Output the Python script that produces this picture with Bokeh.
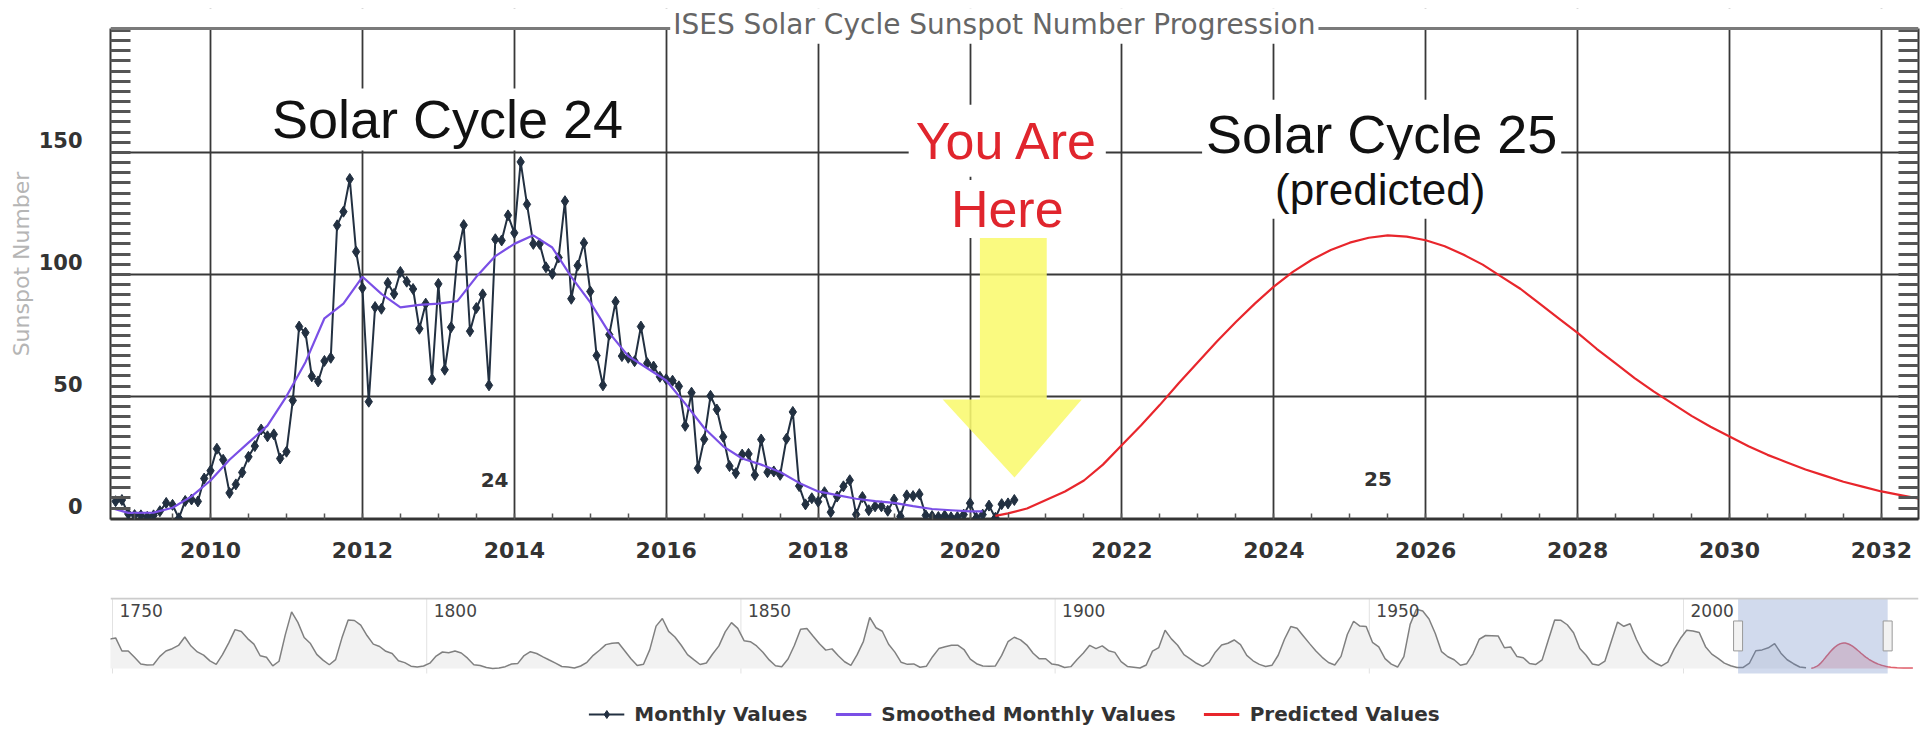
import numpy as np
from bokeh.plotting import figure
from bokeh.models import (Range1d, LinearAxis, FixedTicker, Label, Legend, LegendItem,
                          Span, BoxAnnotation)
from bokeh.layouts import column
from bokeh.embed import file_html
from bokeh.resources import INLINE

# ---------------------------------------------------------------- data
# monthly mean sunspot number, first month = Oct 2008, last = Aug 2020
monthly_first = (2008, 10)
monthly_values = [
    7.0, 7.5, 1.8,
    1.3, 1.2, 0.6, 1.2, 2.9, 6.3, 5.5, 0.0, 7.1, 7.7, 6.9, 16.3,
    19.5, 28.5, 24.0, 10.4, 13.9, 18.8, 25.2, 29.6, 36.4, 33.6, 34.4, 24.5,
    27.3, 48.3, 78.6, 76.1, 58.2, 56.1, 64.5, 65.8, 120.1, 125.7, 139.1, 109.3,
    94.4, 47.8, 86.6, 85.9, 96.5, 92.0, 101.0, 97.0, 94.0, 77.7, 88.0, 57.0,
    96.1, 60.9, 78.3, 107.3, 120.2, 76.7, 86.2, 91.8, 54.5, 114.4, 113.9, 124.2,
    117.0, 146.1, 128.7, 112.5, 112.5, 102.9, 100.2, 106.9, 130.0, 90.0, 103.6, 112.9,
    93.0, 66.7, 54.5, 75.3, 88.8, 66.5, 65.8, 64.4, 78.6, 63.6, 62.2, 58.0,
    57.0, 56.4, 54.1, 37.9, 51.5, 20.5, 32.4, 50.2, 44.6, 33.4, 21.4, 18.5,
    26.1, 26.4, 17.7, 32.3, 18.9, 19.2, 17.8, 32.6, 43.6, 13.2, 5.7, 8.2,
    6.8, 10.7, 2.5, 8.9, 13.1, 15.6, 1.6, 8.7, 3.3, 4.9, 4.9, 3.1,
    7.7, 0.8, 9.4, 9.1, 9.9, 1.2, 0.9, 0.5, 1.1, 0.4, 0.5, 1.5,
    6.2, 0.2, 1.5, 5.2, 0.2, 5.8, 6.1, 7.5,
]

smoothed_months = [
    "2008-09", "2008-12", "2009-04", "2009-07", "2009-10",
    "2010-01", "2010-04", "2010-07", "2010-10",
    "2011-01", "2011-04", "2011-07", "2011-10",
    "2012-01", "2012-04", "2012-07", "2012-10",
    "2013-01", "2013-04", "2013-07", "2013-10",
    "2014-01", "2014-04", "2014-07", "2014-10",
    "2015-01", "2015-04", "2015-07", "2015-10",
    "2016-01", "2016-04", "2016-07", "2016-10",
    "2017-01", "2017-04", "2017-07", "2017-10",
    "2018-01", "2018-04", "2018-07", "2018-10",
    "2019-01", "2019-04", "2019-07", "2019-10",
    "2020-01", "2020-03",
]
smoothed_values = [
    4.5, 2.2, 2.3, 4.3, 9.0,
    15.5, 24.0, 31.0, 38.0,
    50.0, 64.0, 82.0, 88.0,
    99.0, 92.0, 86.5, 87.5,
    88.0, 89.0, 99.0, 107.5,
    112.5, 116.0, 111.0, 99.0,
    88.5, 76.0, 66.5, 61.5,
    56.5, 47.0, 37.0, 29.5,
    24.5, 22.0, 19.0, 14.5,
    11.0, 9.5, 8.0, 7.0,
    6.3, 5.0, 3.8, 3.3,
    2.8, 2.8,
]

predicted_months = [
    "2020-05", "2020-07", "2020-10",
    "2021-01", "2021-04", "2021-07", "2021-10",
    "2022-01", "2022-04", "2022-07", "2022-10",
    "2023-01", "2023-04", "2023-07", "2023-10",
    "2024-01", "2024-04", "2024-07", "2024-10",
    "2025-01", "2025-04", "2025-07", "2025-10",
    "2026-01", "2026-04", "2026-07", "2026-10",
    "2027-01", "2027-04", "2027-07", "2027-10",
    "2028-01", "2028-04", "2028-07", "2028-10",
    "2029-01", "2029-04", "2029-07", "2029-10",
    "2030-01", "2030-04", "2030-07", "2030-10",
    "2031-01", "2031-04", "2031-07", "2031-10",
    "2032-01", "2032-04", "2032-07",
    "2033-01", "2034-01", "2035-01", "2036-07",
]
predicted_values = [
    1.0, 2.0, 4.0,
    7.5, 11.0, 15.5, 22.0,
    30.0, 38.0, 46.5, 55.5,
    64.0, 72.5, 80.5, 88.0,
    95.0, 101.0, 106.0, 110.0,
    113.0, 115.0, 116.0, 115.5,
    114.0, 111.5, 108.0, 104.0,
    99.0, 94.0, 88.0, 82.0,
    76.0, 69.5, 63.5, 57.5,
    52.0, 47.0, 42.0, 37.5,
    33.5, 29.5, 26.0, 23.0,
    20.0, 17.5, 15.0, 13.0,
    11.0, 9.5, 8.0,
    6.0, 3.5, 2.5, 2.0,
]

# navigator: yearly sunspot numbers from 1749
nav_first_year = 1749
nav_yearly = [
    134.0, 139.0, 79.5, 79.7, 51.2, 20.3, 16.0, 17.0, 54.0, 79.3,
    90.0, 104.8, 143.2, 102.0, 75.2, 60.7, 34.8, 19.0, 63.0, 116.3,
    176.8, 168.0, 136.0, 110.8, 58.0, 51.0, 11.7, 33.0, 154.2, 257.3,
    209.8, 141.3, 113.5, 64.2, 38.0, 17.0, 40.2, 138.2, 220.0, 218.2,
    196.8, 149.8, 111.0, 100.0, 78.2, 68.3, 35.5, 26.7, 10.7, 6.8,
    11.3, 24.2, 56.7, 75.0, 71.8, 79.2, 70.3, 46.8, 16.8, 13.5,
    4.2, 0.0, 2.3, 8.3, 20.3, 23.2, 59.0, 76.3, 68.3, 52.9,
    38.5, 24.2, 9.2, 6.3, 2.2, 11.4, 28.2, 59.9, 83.0, 108.5,
    115.2, 117.4, 80.8, 44.3, 13.4, 19.5, 85.8, 192.7, 227.3, 168.7,
    143.0, 105.5, 63.3, 40.3, 18.1, 25.1, 65.8, 102.7, 166.3, 208.3,
    182.5, 126.3, 122.0, 102.7, 74.1, 39.0, 12.7, 8.2, 43.4, 104.4,
    178.3, 182.2, 146.6, 112.1, 83.5, 89.2, 57.8, 30.7, 13.9, 62.8,
    123.6, 232.0, 185.3, 169.2, 110.1, 74.5, 28.3, 18.9, 20.7, 5.7,
    10.0, 53.7, 90.5, 99.0, 106.1, 105.8, 86.3, 42.4, 21.8, 11.2,
    10.4, 11.8, 59.5, 121.7, 142.0, 130.0, 106.6, 69.4, 43.8, 44.4,
    20.2, 15.7, 4.6, 8.5, 40.8, 70.1, 105.5, 90.1, 102.8, 80.9,
    73.2, 30.9, 9.5, 6.0, 2.4, 16.1, 79.0, 95.0, 173.6, 134.6,
    105.7, 62.7, 43.5, 23.7, 9.7, 27.9, 74.0, 106.5, 114.7, 129.7,
    108.2, 59.4, 35.1, 18.6, 9.2, 14.6, 60.2, 132.8, 190.6, 182.6,
    148.0, 113.0, 79.2, 50.8, 27.1, 16.1, 55.3, 154.3, 214.7, 193.0,
    190.7, 118.9, 98.3, 45.0, 20.1, 6.6, 54.2, 200.7, 269.3, 261.7,
    225.1, 159.0, 76.4, 53.4, 39.9, 15.0, 22.0, 66.8, 132.9, 150.0,
    149.4, 148.0, 94.4, 97.6, 54.1, 49.2, 22.5, 18.4, 39.3, 131.0,
    220.1, 218.9, 198.9, 162.4, 91.0, 60.5, 20.6, 14.8, 33.9, 123.0,
    211.1, 191.8, 203.3, 133.0, 76.1, 44.9, 25.1, 11.6, 28.9, 88.3,
    136.3, 173.9, 170.4, 163.6, 99.3, 65.3, 45.8, 24.7, 12.6, 4.2,
    4.8, 24.9, 80.8, 84.5, 94.0, 113.3, 69.8, 39.8, 21.7, 7.0,
    3.6,
]

x_ticks = [2010, 2012, 2014, 2016, 2018, 2020, 2022, 2024, 2026, 2028, 2030, 2032]
y_ticks = [0, 50, 100, 150]
nav_ticks = [1750, 1800, 1850, 1900, 1950, 2000]

# ---------------------------------------------------------------- helpers
def month_pos(s):
    y, m = s.split("-")
    return int(y) + (int(m) - 1) / 12.0

first_idx = monthly_first[0] * 12 + monthly_first[1] - 1
monthly_x = [(first_idx + i) // 12 + ((first_idx + i) % 12) / 12.0 for i in range(len(monthly_values))]
smoothed_x = [month_pos(s) for s in smoothed_months]
predicted_x = [month_pos(s) for s in predicted_months]
nav_x = [nav_first_year + i + 0.5 for i in range(len(nav_yearly))]

# ---------------------------------------------------------------- styles
MONTHLY_COLOR = "#223041"
SMOOTH_COLOR = "#7a4fe6"
PRED_COLOR = "#e8262c"
GRID_COLOR = "#383838"
TICK_FONT = "DejaVu Sans"

W = 1920
FRAME_W = 1808
X0 = 2008.683
X1 = X0 + FRAME_W / 75.95
Y0, Y1 = -0.5, 200.8          # visible plot box
PX_PER_UNIT = 491.0 / (Y1 - Y0)
YTOP = Y1 + 20.0 / PX_PER_UNIT  # frame extends above the box (title sits on the box edge)
LABEL_SHIFT = 5.0
y_minor = [k * 50.0 / 12.0 for k in range(1, 49)]
x_minor = [2009 + 0.5 * k for k in range(0, 48)]

# ---------------------------------------------------------------- main figure
p = figure(width=W, height=575, x_range=Range1d(X0, X1), y_range=Range1d(Y0, YTOP),
           output_backend="svg", toolbar_location=None, y_axis_location=None,
           min_border_left=110, min_border_right=2, min_border_top=8, min_border_bottom=56)
p.outline_line_color = None

xa = p.xaxis[0]
xa.ticker = FixedTicker(ticks=x_ticks, minor_ticks=x_minor)
xa.major_tick_in = 0
xa.major_tick_out = 0
xa.minor_tick_in = 6
xa.minor_tick_out = 0
xa.minor_tick_line_color = "#555555"
xa.minor_tick_line_width = 1.5
xa.axis_line_color = "#333333"
xa.axis_line_width = 2
xa.major_label_text_font = TICK_FONT
xa.major_label_text_font_style = "bold"
xa.major_label_text_font_size = "22px"
xa.major_label_text_color = "#333333"
xa.major_label_standoff = 22

p.xgrid.ticker = FixedTicker(ticks=x_ticks)
p.ygrid.ticker = FixedTicker(ticks=y_ticks)
p.grid.grid_line_color = GRID_COLOR
p.grid.grid_line_width = 1.8

p.extra_y_ranges = {"lab": Range1d(Y0 - LABEL_SHIFT, YTOP - LABEL_SHIFT)}
ya = LinearAxis(y_range_name="lab", bounds=(Y0 - LABEL_SHIFT, Y1 - LABEL_SHIFT),
                ticker=FixedTicker(ticks=y_ticks, minor_ticks=[v - LABEL_SHIFT for v in y_minor]))
ya.major_tick_in = 0
ya.major_tick_out = 0
ya.minor_tick_in = 20
ya.minor_tick_out = 0
ya.minor_tick_line_width = 3
ya.minor_tick_line_color = "#555555"
ya.axis_line_color = "#333333"
ya.axis_line_width = 2
ya.major_label_text_font = TICK_FONT
ya.major_label_text_font_style = "bold"
ya.major_label_text_font_size = "21px"
ya.major_label_text_color = "#333333"
ya.major_label_standoff = 28
ya.axis_label = "Sunspot Number"
ya.axis_label_text_font = TICK_FONT
ya.axis_label_text_font_style = "normal"
ya.axis_label_text_font_size = "22px"
ya.axis_label_text_color = "#b5b5b5"
ya.axis_label_standoff = 2
p.add_layout(ya, "left")

ra = LinearAxis(bounds=(Y0, Y1), ticker=FixedTicker(ticks=[], minor_ticks=y_minor))
ra.major_tick_in = 0
ra.major_tick_out = 0
ra.minor_tick_in = 20
ra.minor_tick_out = 0
ra.minor_tick_line_width = 3
ra.minor_tick_line_color = "#555555"
ra.axis_line_color = "#333333"
ra.axis_line_width = 2
ra.major_label_standoff = 0
ra.major_label_text_font_size = "0px"
ra.axis_label_standoff = 0
p.add_layout(ra, "right")

# yellow "you are here" arrow (annotation shape)
ARROW_SHAFT = (2020.13, 2021.01)
ARROW_TOP = 115.9
ARROW_HEAD_Y = 48.7
ARROW_HEAD = (2019.64, 2021.47)
ARROW_TIP = (2020.585, 16.7)
p.patch([ARROW_SHAFT[0], ARROW_SHAFT[1], ARROW_SHAFT[1], ARROW_HEAD[1], ARROW_TIP[0],
         ARROW_HEAD[0], ARROW_SHAFT[0]],
        [ARROW_TOP, ARROW_TOP, ARROW_HEAD_Y, ARROW_HEAD_Y, ARROW_TIP[1], ARROW_HEAD_Y, ARROW_HEAD_Y],
        fill_color="#f9f96e", fill_alpha=0.88, line_color=None)

# data series
p.line(monthly_x, monthly_values, line_color=MONTHLY_COLOR, line_width=2)
p.scatter(monthly_x, monthly_values, marker="diamond", size=11,
          fill_color=MONTHLY_COLOR, line_color=MONTHLY_COLOR)
p.line(smoothed_x, smoothed_values, line_color=SMOOTH_COLOR, line_width=2.2)
p.line(predicted_x, predicted_values, line_color=PRED_COLOR, line_width=2.2)

# white mask above the plot box + top border line
p.add_layout(BoxAnnotation(bottom=Y1, fill_color="white", fill_alpha=1.0, line_alpha=0))
p.add_layout(Span(location=Y1, dimension="width", line_color="#7a7a7a", line_width=3))


def add_label(fig, text, x, y, size, color, font="Liberation Sans", style="normal",
              bg=True, pad=0, align="center", baseline="middle", x_offset=0):
    lab = Label(x=x, y=y, text=text, text_font=font, text_font_size=size,
                text_font_style=style, text_color=color, text_align=align,
                text_baseline=baseline, x_offset=x_offset)
    if bg:
        lab.background_fill_color = "white"
        lab.background_fill_alpha = 1.0
        lab.padding = pad
    fig.add_layout(lab)
    return lab


add_label(p, "ISES Solar Cycle Sunspot Number Progression", 2020.32, 202.5, "28px", "#666666",
          font="DejaVu Sans", pad=3)
add_label(p, "Solar Cycle 24", 2013.12, 163.5, "54px", "#111111", pad=1)
add_label(p, "You Are", 2020.49, 154.8, "52px", "#e0252d", pad=7)
add_label(p, "Here", 2020.49, 126.8, "52px", "#e0252d", pad=0)
add_label(p, "Solar Cycle 25", 2025.42, 157.6, "54px", "#111111", pad=4)
add_label(p, "(predicted)", 2025.40, 134.9, "44px", "#111111", pad=5)
add_label(p, "24", 2013.74, 15.5, "20px", "#333333", font=TICK_FONT, style="bold", bg=False)
add_label(p, "25", 2025.37, 15.9, "20px", "#333333", font=TICK_FONT, style="bold", bg=False)

# ---------------------------------------------------------------- navigator
NX0 = 1749.68
NX1 = NX0 + FRAME_W / 6.284
NAV_PX = 0.22
NY1 = (668 - 597) / NAV_PX
NY0 = -(675 - 668) / NAV_PX
NAV_TOP = NY1 - 1.0 / NAV_PX
NAV_BOTTOM = -(673 - 668) / NAV_PX
HANDLE_W = 9 / 6.284
HANDLE_Y = (80.0, 216.0)

pn = figure(width=W, height=100, x_range=Range1d(NX0, NX1), y_range=Range1d(NY0, NY1),
            output_backend="svg", toolbar_location=None,
            min_border_left=110, min_border_right=2, min_border_top=22, min_border_bottom=0)
pn.xaxis.visible = False
pn.yaxis.visible = False
pn.outline_line_color = None
pn.xgrid.visible = False
pn.ygrid.visible = False

pn.segment(x0=nav_ticks, y0=[NAV_BOTTOM] * len(nav_ticks), x1=nav_ticks,
           y1=[NAV_TOP] * len(nav_ticks), line_color="#e2e2e2", line_width=1)
pn.varea(x=nav_x, y1=[0] * len(nav_x), y2=nav_yearly, fill_color="#f2f2f2")
pn.line(nav_x, nav_yearly, line_color="#808080", line_width=1.5)
pn.varea(x=predicted_x, y1=[0] * len(predicted_x), y2=predicted_values, fill_color="#f7d3d6")
pn.line(predicted_x, predicted_values, line_color="#e0606c", line_width=1.5)
pn.quad(left=[X0], right=[X1], bottom=[NAV_BOTTOM], top=[NAV_TOP],
        fill_color="#6685c2", fill_alpha=0.3, line_color=None)
pn.segment(x0=[NX0], y0=[NAV_TOP], x1=[NX1], y1=[NAV_TOP], line_color="#cccccc", line_width=2)
pn.quad(left=[X0 - HANDLE_W / 2, X1 - HANDLE_W / 2], right=[X0 + HANDLE_W / 2, X1 + HANDLE_W / 2],
        bottom=[HANDLE_Y[0]] * 2, top=[HANDLE_Y[1]] * 2,
        fill_color="#f2f2f2", line_color="#999999", line_width=1)
for t in nav_ticks:
    add_label(pn, str(t), t, 294, "17px", "#444444", font="DejaVu Sans", bg=False,
              align="left", baseline="top", x_offset=7)

# ---------------------------------------------------------------- legend strip
pl = figure(width=W, height=53, x_range=Range1d(0, 1), y_range=Range1d(0, 1),
            output_backend="svg", toolbar_location=None,
            min_border_left=20, min_border_right=0, min_border_top=25, min_border_bottom=0)
pl.xaxis.visible = False
pl.yaxis.visible = False
pl.outline_line_color = None
pl.xgrid.visible = False
pl.ygrid.visible = False
l_ml = pl.line([-5], [-5], line_color=MONTHLY_COLOR, line_width=2)
l_mp = pl.scatter([-5], [-5], marker="diamond", size=12, fill_color=MONTHLY_COLOR,
                  line_color=MONTHLY_COLOR)
l_s = pl.line([-5], [-5], line_color=SMOOTH_COLOR, line_width=3)
l_p = pl.line([-5], [-5], line_color=PRED_COLOR, line_width=3)
legend = Legend(items=[LegendItem(label="Monthly Values", renderers=[l_ml, l_mp]),
                       LegendItem(label="Smoothed Monthly Values", renderers=[l_s]),
                       LegendItem(label="Predicted Values", renderers=[l_p])],
                orientation="horizontal", location="center")
legend.label_text_font = "DejaVu Sans"
legend.label_text_font_style = "bold"
legend.label_text_font_size = "20px"
legend.label_text_color = "#333333"
legend.glyph_width = 36
legend.glyph_height = 20
legend.label_height = 20
legend.label_standoff = 10
legend.spacing = 28
legend.padding = 0
legend.margin = 0
legend.border_line_alpha = 0
legend.background_fill_alpha = 0
pl.add_layout(legend)

layout = column(p, pn, pl)
open("out.html", "w").write(file_html(layout, INLINE, "ISES Solar Cycle Sunspot Number Progression"))
